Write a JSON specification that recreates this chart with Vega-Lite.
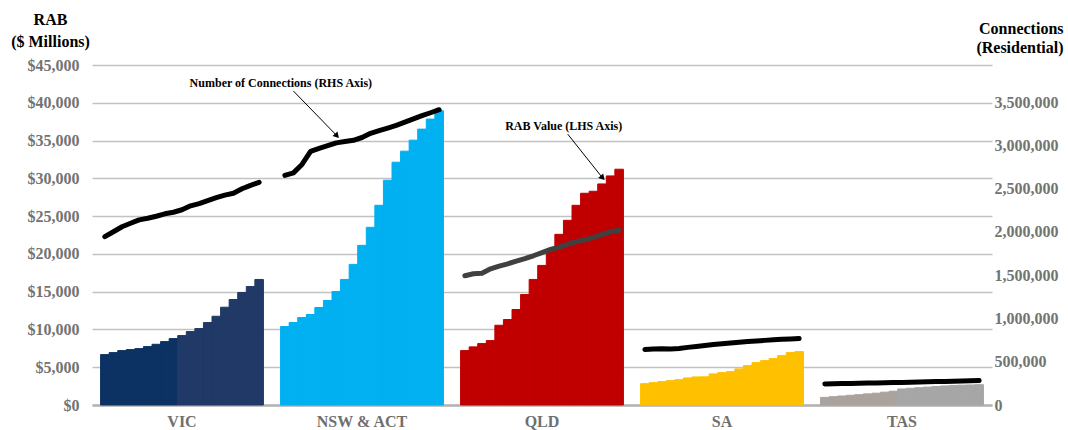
{
  "$schema": "https://vega.github.io/schema/vega-lite/v6.json",
  "width": 900,
  "height": 340,
  "autosize": "none",
  "padding": {"left": 92, "top": 65, "right": 76, "bottom": 25},
  "config": {
    "view": {"stroke": null},
    "font": "Liberation Serif",
    "axis": {"labelFont": "Liberation Serif", "titleFont": "Liberation Serif"}
  },
  "datasets": {
    "rab": [
      {"region":"VIC","year":2006,"rab":6670,"connections":1946000,"series":"VIC 1"},
      {"region":"VIC","year":2007,"rab":6935,"connections":2003000,"series":"VIC 1"},
      {"region":"VIC","year":2008,"rab":7200,"connections":2060000,"series":"VIC 1"},
      {"region":"VIC","year":2009,"rab":7333,"connections":2101000,"series":"VIC 1"},
      {"region":"VIC","year":2010,"rab":7465,"connections":2140000,"series":"VIC 1"},
      {"region":"VIC","year":2011,"rab":7730,"connections":2158000,"series":"VIC 1"},
      {"region":"VIC","year":2012,"rab":8036,"connections":2182000,"series":"VIC 1"},
      {"region":"VIC","year":2013,"rab":8394,"connections":2210000,"series":"VIC 1"},
      {"region":"VIC","year":2014,"rab":8792,"connections":2228000,"series":"VIC 1"},
      {"region":"VIC","year":2015,"rab":9190,"connections":2257000,"series":"VIC 2"},
      {"region":"VIC","year":2016,"rab":9720,"connections":2302000,"series":"VIC 2"},
      {"region":"VIC","year":2017,"rab":10118,"connections":2328000,"series":"VIC 2"},
      {"region":"VIC","year":2018,"rab":10913,"connections":2363000,"series":"VIC 2"},
      {"region":"VIC","year":2019,"rab":11748,"connections":2397000,"series":"VIC 2"},
      {"region":"VIC","year":2020,"rab":12942,"connections":2426000,"series":"VIC 2"},
      {"region":"VIC","year":2021,"rab":13963,"connections":2447000,"series":"VIC 2"},
      {"region":"VIC","year":2022,"rab":14891,"connections":2499000,"series":"VIC 2"},
      {"region":"VIC","year":2023,"rab":15687,"connections":2539000,"series":"VIC 2"},
      {"region":"VIC","year":2024,"rab":16615,"connections":2574000,"series":"VIC 2"},
      {"region":"NSW & ACT","year":2006,"rab":10385,"connections":2654000,"series":"NSW & ACT"},
      {"region":"NSW & ACT","year":2007,"rab":10915,"connections":2683000,"series":"NSW & ACT"},
      {"region":"NSW & ACT","year":2008,"rab":11578,"connections":2781000,"series":"NSW & ACT"},
      {"region":"NSW & ACT","year":2009,"rab":11976,"connections":2932000,"series":"NSW & ACT"},
      {"region":"NSW & ACT","year":2010,"rab":12905,"connections":2966000,"series":"NSW & ACT"},
      {"region":"NSW & ACT","year":2011,"rab":13833,"connections":2997000,"series":"NSW & ACT"},
      {"region":"NSW & ACT","year":2012,"rab":15027,"connections":3030000,"series":"NSW & ACT"},
      {"region":"NSW & ACT","year":2013,"rab":16618,"connections":3046000,"series":"NSW & ACT"},
      {"region":"NSW & ACT","year":2014,"rab":18608,"connections":3060000,"series":"NSW & ACT"},
      {"region":"NSW & ACT","year":2015,"rab":21128,"connections":3092000,"series":"NSW & ACT"},
      {"region":"NSW & ACT","year":2016,"rab":23515,"connections":3140000,"series":"NSW & ACT"},
      {"region":"NSW & ACT","year":2017,"rab":26433,"connections":3171000,"series":"NSW & ACT"},
      {"region":"NSW & ACT","year":2018,"rab":29749,"connections":3201000,"series":"NSW & ACT"},
      {"region":"NSW & ACT","year":2019,"rab":32136,"connections":3232000,"series":"NSW & ACT"},
      {"region":"NSW & ACT","year":2020,"rab":33595,"connections":3269000,"series":"NSW & ACT"},
      {"region":"NSW & ACT","year":2021,"rab":35054,"connections":3307000,"series":"NSW & ACT"},
      {"region":"NSW & ACT","year":2022,"rab":36513,"connections":3344000,"series":"NSW & ACT"},
      {"region":"NSW & ACT","year":2023,"rab":37840,"connections":3378000,"series":"NSW & ACT"},
      {"region":"NSW & ACT","year":2024,"rab":38940,"connections":3413000,"series":"NSW & ACT"},
      {"region":"QLD","year":2006,"rab":7202,"connections":1494000,"series":"QLD"},
      {"region":"QLD","year":2007,"rab":7692,"connections":1517000,"series":"QLD"},
      {"region":"QLD","year":2008,"rab":8130,"connections":1524000,"series":"QLD"},
      {"region":"QLD","year":2009,"rab":8528,"connections":1574000,"series":"QLD"},
      {"region":"QLD","year":2010,"rab":10557,"connections":1606000,"series":"QLD"},
      {"region":"QLD","year":2011,"rab":11313,"connections":1632000,"series":"QLD"},
      {"region":"QLD","year":2012,"rab":12640,"connections":1663000,"series":"QLD"},
      {"region":"QLD","year":2013,"rab":14629,"connections":1692000,"series":"QLD"},
      {"region":"QLD","year":2014,"rab":16618,"connections":1725000,"series":"QLD"},
      {"region":"QLD","year":2015,"rab":18475,"connections":1762000,"series":"QLD"},
      {"region":"QLD","year":2016,"rab":20597,"connections":1798000,"series":"QLD"},
      {"region":"QLD","year":2017,"rab":22587,"connections":1825000,"series":"QLD"},
      {"region":"QLD","year":2018,"rab":24444,"connections":1857000,"series":"QLD"},
      {"region":"QLD","year":2019,"rab":26433,"connections":1891000,"series":"QLD"},
      {"region":"QLD","year":2020,"rab":28025,"connections":1909000,"series":"QLD"},
      {"region":"QLD","year":2021,"rab":28290,"connections":1938000,"series":"QLD"},
      {"region":"QLD","year":2022,"rab":29259,"connections":1972000,"series":"QLD"},
      {"region":"QLD","year":2023,"rab":30320,"connections":2002000,"series":"QLD"},
      {"region":"QLD","year":2024,"rab":31208,"connections":2019000,"series":"QLD"},
      {"region":"SA","year":2006,"rab":2825,"connections":642000,"series":"SA"},
      {"region":"SA","year":2007,"rab":2958,"connections":647000,"series":"SA"},
      {"region":"SA","year":2008,"rab":3090,"connections":649000,"series":"SA"},
      {"region":"SA","year":2009,"rab":3223,"connections":648000,"series":"SA"},
      {"region":"SA","year":2010,"rab":3356,"connections":653000,"series":"SA"},
      {"region":"SA","year":2011,"rab":3581,"connections":666000,"series":"SA"},
      {"region":"SA","year":2012,"rab":3714,"connections":676000,"series":"SA"},
      {"region":"SA","year":2013,"rab":3730,"connections":687000,"series":"SA"},
      {"region":"SA","year":2014,"rab":4112,"connections":700000,"series":"SA"},
      {"region":"SA","year":2015,"rab":4284,"connections":708000,"series":"SA"},
      {"region":"SA","year":2016,"rab":4416,"connections":716000,"series":"SA"},
      {"region":"SA","year":2017,"rab":4775,"connections":725000,"series":"SA"},
      {"region":"SA","year":2018,"rab":5212,"connections":733000,"series":"SA"},
      {"region":"SA","year":2019,"rab":5610,"connections":739000,"series":"SA"},
      {"region":"SA","year":2020,"rab":5876,"connections":747000,"series":"SA"},
      {"region":"SA","year":2021,"rab":6141,"connections":753000,"series":"SA"},
      {"region":"SA","year":2022,"rab":6539,"connections":759000,"series":"SA"},
      {"region":"SA","year":2023,"rab":6937,"connections":764000,"series":"SA"},
      {"region":"SA","year":2024,"rab":7069,"connections":768000,"series":"SA"},
      {"region":"TAS","year":2006,"rab":1008,"connections":242500,"series":"TAS 1"},
      {"region":"TAS","year":2007,"rab":1100,"connections":244800,"series":"TAS 1"},
      {"region":"TAS","year":2008,"rab":1194,"connections":247300,"series":"TAS 1"},
      {"region":"TAS","year":2009,"rab":1287,"connections":249600,"series":"TAS 1"},
      {"region":"TAS","year":2010,"rab":1366,"connections":251400,"series":"TAS 1"},
      {"region":"TAS","year":2011,"rab":1472,"connections":253900,"series":"TAS 1"},
      {"region":"TAS","year":2012,"rab":1565,"connections":255700,"series":"TAS 1"},
      {"region":"TAS","year":2013,"rab":1698,"connections":257400,"series":"TAS 1"},
      {"region":"TAS","year":2014,"rab":1830,"connections":259600,"series":"TAS 1"},
      {"region":"TAS","year":2015,"rab":2122,"connections":261200,"series":"TAS 2"},
      {"region":"TAS","year":2016,"rab":2215,"connections":263500,"series":"TAS 2"},
      {"region":"TAS","year":2017,"rab":2294,"connections":265900,"series":"TAS 2"},
      {"region":"TAS","year":2018,"rab":2374,"connections":267800,"series":"TAS 2"},
      {"region":"TAS","year":2019,"rab":2454,"connections":270300,"series":"TAS 2"},
      {"region":"TAS","year":2020,"rab":2520,"connections":272600,"series":"TAS 2"},
      {"region":"TAS","year":2021,"rab":2586,"connections":275400,"series":"TAS 2"},
      {"region":"TAS","year":2022,"rab":2626,"connections":278300,"series":"TAS 2"},
      {"region":"TAS","year":2023,"rab":2653,"connections":281200,"series":"TAS 2"},
      {"region":"TAS","year":2024,"rab":2692,"connections":284100,"series":"TAS 2"}
    ],
    "notes": [
      {"label":"Number of Connections (RHS Axis)","region":"NSW & ACT","year":2006,"rab":42614},
      {"label":"RAB Value (LHS Axis)","region":"QLD","year":2018,"rab":36911}
    ],
    "arrows": [
      {"arrow":"connections","region":"NSW & ACT","year":2007,"rab":41553,"end":false},
      {"arrow":"connections","region":"NSW & ACT","year":2012,"rab":35717,"end":true},
      {"arrow":"rab","region":"QLD","year":2018,"rab":35850,"end":false},
      {"arrow":"rab","region":"QLD","year":2022,"rab":30147,"end":true}
    ]
  },
  "encoding": {
    "x": {
      "field": "region", "type": "nominal",
      "scale": {"domain": ["VIC","NSW & ACT","QLD","SA","TAS"], "paddingInner": 0, "paddingOuter": 0},
      "axis": {"title": null, "ticks": false, "labelAngle": 0, "labelFont": "Liberation Serif", "labelFontWeight": "bold", "labelFontSize": 16, "labelColor": "#6f6f6f", "labelPadding": 8, "domainColor": "#b3b3b3", "domainWidth": 2.5}
    },
    "xOffset": {"field": "year", "type": "ordinal", "scale": {"paddingInner": 0, "paddingOuter": 1.07}}
  },
  "layer": [
    {
      "encoding": {
        "y": {
          "field": "rab", "type": "quantitative",
          "scale": {"domain": [0, 45000], "nice": false},
          "axis": {
            "values": [0,5000,10000,15000,20000,25000,30000,35000,40000,45000],
            "format": "$,d", "ticks": false, "domain": false, "labelPadding": 13, "labelOverlap": false,
            "labelFontWeight": "bold", "labelFontSize": 16, "labelColor": "#737373",
            "grid": true, "gridColor": "#c2c2c2", "gridWidth": 1.5,
            "title": ["RAB", "($ Millions)"], "titleAngle": 0, "titleAlign": "center",
            "titleBaseline": "alphabetic", "titleX": -42, "titleY": -41,
            "titleFontSize": 16, "titleFontWeight": "bold", "titleColor": "#000000", "titleLineHeight": 22
          }
        }
      },
      "layer": [
        {
          "data": {"name": "rab"},
          "mark": {"type": "bar", "strokeWidth": 1},
          "encoding": {
            "fill": {
              "field": "series", "type": "nominal", "legend": null,
              "scale": {
                "domain": ["VIC 1","VIC 2","NSW & ACT","QLD","SA","TAS 1","TAS 2"],
                "range": ["#0c3263","#213966","#00b0f0","#c00000","#ffc000","#aaa29c","#a6a6a6"]
              }
            },
            "stroke": {
              "field": "series", "type": "nominal", "legend": null,
              "scale": {
                "domain": ["VIC 1","VIC 2","NSW & ACT","QLD","SA","TAS 1","TAS 2"],
                "range": ["#0c3263","#213966","#00b0f0","#c00000","#ffc000","#aaa29c","#a6a6a6"]
              }
            }
          }
        },
        {
          "data": {"name": "notes"},
          "mark": {"type": "text", "font": "Liberation Serif", "fontWeight": "bold", "fontSize": 12, "color": "#000000", "align": "center", "baseline": "middle", "dx": -4},
          "encoding": {
            "text": {"field": "label"}
          }
        },
        {
          "data": {"name": "arrows"},
          "mark": {"type": "line", "color": "#000000", "strokeWidth": 1},
          "encoding": {
            "detail": {"field": "arrow"},
            "order": {"field": "year"}
          }
        },
        {
          "data": {"name": "arrows"},
          "transform": [{"filter": "datum.end"}],
          "mark": {"type": "point", "shape": "triangle", "filled": true, "color": "#000000", "size": 45, "angle": 138, "opacity": 1},
          "encoding": {}
        }
      ]
    },
    {
      "data": {"name": "rab"},
      "mark": {"type": "line", "strokeWidth": 5, "strokeCap": "round", "strokeJoin": "round"},
      "encoding": {
        "y": {
          "field": "connections", "type": "quantitative",
          "scale": {"domain": [0, 3930000], "nice": false},
          "axis": {
            "orient": "right",
            "values": [0,500000,1000000,1500000,2000000,2500000,3000000,3500000],
            "format": ",d", "ticks": false, "domain": false, "grid": false, "labelPadding": 2, "labelOverlap": false,
            "labelFontWeight": "bold", "labelFontSize": 16, "labelColor": "#737373",
            "title": ["Connections", "(Residential)"], "titleAngle": 0, "titleAlign": "right",
            "titleBaseline": "alphabetic", "titleX": 71, "titleY": -32,
            "titleFontSize": 16, "titleFontWeight": "bold", "titleColor": "#000000", "titleLineHeight": 19
          }
        },
        "stroke": {
          "field": "region", "type": "nominal", "legend": null,
          "scale": {"domain": ["VIC","NSW & ACT","QLD","SA","TAS"], "range": ["#000000","#000000","#404040","#000000","#000000"]}
        },
        "detail": {"field": "region"},
        "order": {"field": "year"}
      }
    }
  ],
  "resolve": {"scale": {"y": "independent", "stroke": "independent"}}
}
